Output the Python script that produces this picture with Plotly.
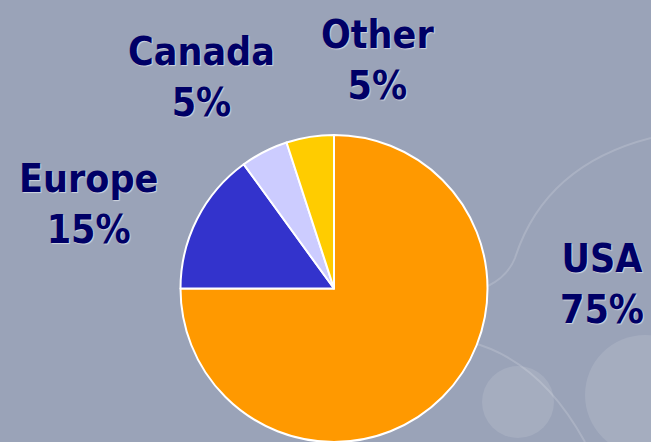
import plotly.graph_objects as go

# Data
regions = ["USA", "Europe", "Canada", "Other"]
shares = [75, 15, 5, 5]
slice_colors = ["#FF9900", "#3333CC", "#CCCCFF", "#FFCC00"]

W, H = 651, 442
BG = "#9AA3B8"
TEXT = "#000066"

def px(x):
    return x / W

def py(y):
    return 1 - y / H

fig = go.Figure(
    go.Pie(
        labels=regions,
        values=shares,
        sort=False,
        direction="clockwise",
        rotation=0,
        marker=dict(colors=slice_colors, line=dict(color="white", width=2)),
        textinfo="none",
        hoverinfo="label+percent",
        showlegend=False,
        domain=dict(x=[px(334 - 154), px(334 + 154)], y=[0, py(135)]),
    )
)

# label positions (pixel centres of each text block)
label_pos = {
    "USA": (602, 284),
    "Europe": (88, 204),
    "Canada": (201, 77),
    "Other": (377, 60),
}

annotations = []
for name, val in zip(regions, shares):
    x, y = label_pos[name]
    annotations.append(
        dict(
            x=px(x), y=py(y), xref="paper", yref="paper",
            xanchor="center", yanchor="middle",
            text=f"{name}<br>{val}%",
            showarrow=False,
            align="center",
            font=dict(
                family="Liberation Sans Narrow, DejaVu Sans Condensed, Arial Narrow, sans-serif",
                size=39, color=TEXT, weight="bold",
                shadow="1px 1px 1px #D0D5E0",
            ),
        )
    )

def circle(cx, cy, r, fill=None, line=None, width=0):
    return dict(
        type="circle", xref="paper", yref="paper", layer="below",
        x0=px(cx - r), x1=px(cx + r), y0=py(cy + r), y1=py(cy - r),
        fillcolor=fill if fill else "rgba(0,0,0,0)",
        line=dict(color=line if line else "rgba(0,0,0,0)", width=width),
    )

def curve(points):
    (x0, y0), rest = points[0], points[1:]
    d = f"M {px(x0)},{py(y0)}"
    for i in range(0, len(rest), 2):
        (cx, cy), (ex, ey) = rest[i], rest[i + 1]
        d += f" Q {px(cx)},{py(cy)} {px(ex)},{py(ey)}"
    return dict(
        type="path", xref="paper", yref="paper", layer="below", path=d,
        line=dict(color="rgba(255,255,255,0.16)", width=2),
    )

shapes = [
    curve([(651, 138), (545, 165), (515, 258), (508, 276), (488, 286)]),
    circle(518, 402, 36, fill="rgba(255,255,255,0.11)"),
    circle(645, 395, 60, fill="rgba(255,255,255,0.11)"),
    curve([(470, 342), (540, 360), (585, 442)]),
]

fig.update_layout(
    width=W, height=H,
    margin=dict(l=0, r=0, t=0, b=0),
    paper_bgcolor=BG, plot_bgcolor=BG,
    annotations=annotations,
    shapes=shapes,
)

fig.write_html(
    "out.html",
    config={"displayModeBar": False},
    post_script="document.body.style.margin='0';document.body.style.overflow='hidden';",
)
